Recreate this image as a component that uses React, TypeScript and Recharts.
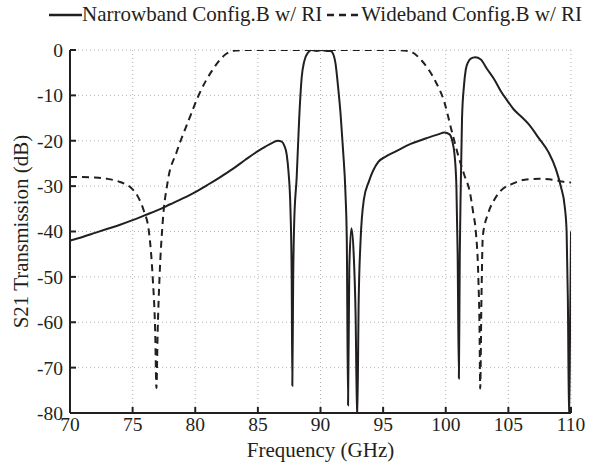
import { CartesianGrid, Line, LineChart, XAxis, YAxis } from "recharts";

const X_TICKS = [70, 75, 80, 85, 90, 95, 100, 105, 110];
const Y_TICKS = [-80, -70, -60, -50, -40, -30, -20, -10, 0];

// Narrowband Config.B w/ RI (solid)
const NARROW_FREQ = [
  70, 71, 72, 73, 74, 75, 76, 77, 78, 79, 80, 81, 82, 83, 84, 85, 85.6, 86.2,
  86.6, 86.9, 87.1, 87.3, 87.45, 87.6, 87.7, 87.75, 87.82, 87.9, 88.1, 88.3,
  88.5, 88.7, 89.0, 89.3, 89.7, 90.1, 90.5, 90.8, 91.0, 91.2, 91.4, 91.6, 91.8,
  92.0, 92.1, 92.2, 92.3, 92.47, 92.65, 92.8, 92.93, 93.05, 93.2, 93.46, 93.86,
  94.6, 95.2, 95.9, 97.2, 98.6, 99.4, 99.9, 100.3, 100.55, 100.7, 100.85,
  100.95, 101.05, 101.12, 101.2, 101.3, 101.45, 101.6, 101.8, 102.0, 102.35,
  102.8, 103.3, 103.9, 104.4, 104.9, 105.4, 106.0, 106.6, 107.4, 108.2, 108.8,
  109.2, 109.5, 109.65, 109.75, 109.85, 109.93, 110,
];
const NARROW_DB = [
  -42, -41.2, -40.3, -39.4, -38.5, -37.5, -36.4, -35.3, -34, -32.7, -31.3,
  -29.7, -28, -26.2, -24.2, -22.3, -21.3, -20.4, -20.0, -20.2, -21, -23, -27,
  -35, -50, -74, -50, -38, -28, -15, -6, -2.5, -0.6, 0, -0.2, 0, -0.2, -0.2,
  -0.8, -3, -8, -14, -22, -32, -42, -78.3, -48, -39.3, -45, -58, -82, -55, -42,
  -33, -29, -24.7, -23.5, -22.5, -20.7, -19.3, -18.6, -18.2, -18.6, -20.4, -23,
  -30, -45, -72.4, -45, -30, -15, -8, -4.3, -2.6, -1.9, -1.6, -2.1, -4.2, -6.6,
  -9.1, -11.1, -13, -14.6, -16.3, -19.3, -22.5, -26.3, -30.2, -34.5, -40, -55,
  -82, -60, -40,
];

// Wideband Config.B w/ RI (dashed)
const WIDE_FREQ = [
  70, 71, 72, 73, 74, 74.8, 75.4, 75.9, 76.3, 76.6, 76.8, 76.9, 77.0, 77.15,
  77.4, 77.8, 78.5, 79.5, 80.3, 81.4, 82.4, 83.2, 84, 90, 96, 96.6, 97.25, 98.0,
  99.1, 99.9, 100.4, 101.0, 101.5, 101.9, 102.2, 102.4, 102.6, 102.7, 102.75,
  102.85, 102.96, 103.4, 103.9, 104.4, 105.4, 106.3, 107.5, 108.8, 109.3, 110,
];
const WIDE_DB = [
  -28.0, -28.0, -28.1, -28.4, -29.1, -30.2, -32.2, -35.5, -40, -50, -62, -74.5,
  -62, -50, -38, -29, -22.6, -15.3, -9.8, -4.3, -1.0, -0.1, 0, 0, 0, -0.1,
  -0.4, -2.1, -6.5, -11.6, -17.0, -23.3, -27.7, -31, -36, -40, -50, -62, -74.6,
  -55, -41, -35.9, -32.9, -31, -29.4, -28.6, -28.4, -28.7, -29, -29.2,
];

const narrowData = NARROW_FREQ.map((f, i) => ({ f, db: NARROW_DB[i] }));
const wideData = WIDE_FREQ.map((f, i) => ({ f, db: WIDE_DB[i] }));

const FONT = "'Liberation Serif', 'Times New Roman', serif";
const INK = "#231f20";

const tickStyle = { fontFamily: FONT, fontSize: 19.5, fill: INK };

function YLabel({ viewBox }: any) {
  const cy = viewBox.y + viewBox.height / 2;
  const x = 21;
  return (
    <text
      x={x}
      y={cy}
      transform={`rotate(-90 ${x} ${cy})`}
      textAnchor="middle"
      dominantBaseline="central"
      fontFamily={FONT}
      fontSize={21}
      fill={INK}
    >
      S21 Transmission (dB)
    </text>
  );
}

function XLabel({ viewBox }: any) {
  const cx = viewBox.x + viewBox.width / 2;
  return (
    <text
      x={cx}
      y={457}
      textAnchor="middle"
      fontFamily={FONT}
      fontSize={21}
      fill={INK}
    >
      Frequency (GHz)
    </text>
  );
}

function LegendBar() {
  return (
    <div
      style={{
        position: "absolute",
        top: 2,
        left: 49,
        display: "flex",
        alignItems: "center",
        fontFamily: FONT,
        fontSize: 21,
        color: INK,
        whiteSpace: "nowrap",
      }}
    >
      <svg width={33} height={10}>
        <line x1={0} y1={5} x2={33} y2={5} stroke={INK} strokeWidth={2.5} />
      </svg>
      <span>Narrowband Config.B w/ RI</span>
      <svg width={34} height={10} style={{ marginLeft: 5 }}>
        <line
          x1={0}
          y1={5}
          x2={34}
          y2={5}
          stroke={INK}
          strokeWidth={2.5}
          strokeDasharray="7 5"
        />
      </svg>
      <span>Wideband Config.B w/ RI</span>
    </div>
  );
}

export default function App() {
  return (
    <div
      style={{
        position: "absolute",
        left: 0,
        top: 0,
        width: 599,
        height: 468,
        background: "#fff",
      }}
    >
      <LegendBar />
      <LineChart
        width={599}
        height={468}
        margin={{ top: 50, right: 28, bottom: 0, left: 0 }}
      >
        <CartesianGrid
          stroke="#b5b5b5"
          strokeDasharray="1 3"
          strokeWidth={1}
        />
        <XAxis
          xAxisId={0}
          dataKey="f"
          type="number"
          domain={[70, 110]}
          ticks={X_TICKS}
          allowDataOverflow
          height={55}
          tick={tickStyle}
          tickSize={-6}
          tickMargin={10}
          axisLine={{ stroke: INK, strokeWidth: 2 }}
          tickLine={{ stroke: INK, strokeWidth: 2 }}
          label={{ content: XLabel }}
        />
        <XAxis
          xAxisId="top"
          orientation="top"
          dataKey="f"
          type="number"
          domain={[70, 110]}
          ticks={X_TICKS}
          height={0}
          tickSize={-6}
          tickFormatter={() => ""}
          axisLine={{ stroke: INK, strokeWidth: 2 }}
          tickLine={{ stroke: INK, strokeWidth: 2 }}
        />
        <YAxis
          yAxisId={0}
          type="number"
          domain={[-80, 0]}
          ticks={Y_TICKS}
          allowDataOverflow
          width={70}
          tick={tickStyle}
          tickSize={-6}
          tickMargin={13}
          axisLine={{ stroke: INK, strokeWidth: 2 }}
          tickLine={{ stroke: INK, strokeWidth: 2 }}
          label={{ content: YLabel }}
        />
        <YAxis
          yAxisId="right"
          orientation="right"
          type="number"
          domain={[-80, 0]}
          ticks={Y_TICKS}
          width={0}
          tickSize={-6}
          tickFormatter={() => ""}
          axisLine={{ stroke: INK, strokeWidth: 2 }}
          tickLine={{ stroke: INK, strokeWidth: 2 }}
        />
        <Line
          data={wideData}
          dataKey="db"
          type="monotone"
          stroke={INK}
          strokeWidth={2}
          strokeDasharray="7 5"
          dot={false}
          isAnimationActive={false}
        />
        <Line
          data={narrowData}
          dataKey="db"
          type="monotone"
          stroke={INK}
          strokeWidth={2}
          dot={false}
          isAnimationActive={false}
        />
      </LineChart>
    </div>
  );
}
